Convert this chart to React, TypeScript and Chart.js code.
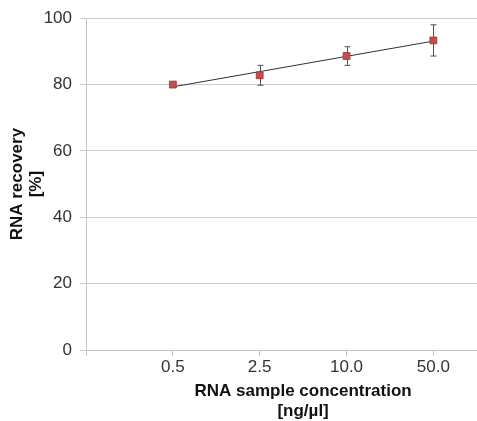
import { useEffect, useRef } from "react";
import { Chart, registerables } from "chart.js";

Chart.register(...registerables);

const categories = ["0.5", "2.5", "10.0", "50.0"];
const recovery = [80.0, 82.8, 88.6, 93.3];
const errors = [0.8, 3.0, 2.8, 4.7];
const trendEnds = [79.3, 93.1];
const yTicks = [0, 20, 40, 60, 80, 100];

const errorBarPlugin = {
  id: "errorBars",
  beforeDatasetsDraw(chart: any) {
    const { ctx, scales } = chart;
    const xs = scales.x;
    const ys = scales.y;
    ctx.save();
    ctx.strokeStyle = "#505050";
    ctx.lineWidth = 1;
    recovery.forEach((v, i) => {
      const px = Math.round(xs.getPixelForValue(i + 1)) + 0.5;
      const top = ys.getPixelForValue(v + errors[i]);
      const bot = ys.getPixelForValue(v - errors[i]);
      ctx.beginPath();
      ctx.moveTo(px, top);
      ctx.lineTo(px, bot);
      ctx.moveTo(px - 3, top);
      ctx.lineTo(px + 3, top);
      ctx.moveTo(px - 3, bot);
      ctx.lineTo(px + 3, bot);
      ctx.stroke();
    });
    ctx.restore();
  },
};

export default function App() {
  const ref = useRef<HTMLCanvasElement | null>(null);
  useEffect(() => {
    if (!ref.current) return;
    const chart = new Chart(ref.current, {
      type: "scatter",
      data: {
        datasets: [
          {
            label: "RNA recovery",
            data: recovery.map((v, i) => ({ x: i + 1, y: v })),
            pointStyle: "rect",
            pointRadius: 4.8,
            backgroundColor: "#c0504d",
            borderColor: "#a8403d",
            borderWidth: 1,
            showLine: false,
            order: 0,
          },
          {
            label: "trend",
            data: [
              { x: 1, y: trendEnds[0] },
              { x: categories.length, y: trendEnds[1] },
            ],
            showLine: true,
            pointRadius: 0,
            borderColor: "#303030",
            borderWidth: 1,
            order: 1,
          },
        ],
      },
      options: {
        animation: false,
        responsive: true,
        maintainAspectRatio: false,
        layout: { padding: { top: 18, left: 0, right: 0, bottom: 0 } },
        plugins: { legend: { display: false }, tooltip: { enabled: false } },
        scales: {
          x: {
            type: "linear",
            min: 0,
            max: 5,
            afterFit: (s: any) => {
              s.height = 71;
            },
            afterBuildTicks: (s: any) => {
              s.ticks = [0, 1, 2, 3, 4, 5].map((v) => ({ value: v }));
            },
            grid: {
              drawOnChartArea: false,
              drawTicks: true,
              tickLength: 6,
              color: "#c4c4c4",
            },
            border: { color: "#c4c4c4", width: 1 },
            ticks: {
              autoSkip: false,
              maxRotation: 0,
              padding: 1,
              color: "#333333",
              font: { family: "'Liberation Sans', Arial, sans-serif", size: 17 },
              callback: (v: any) => categories[Number(v) - 1] ?? "",
            },
            title: {
              display: true,
              text: ["RNA sample concentration", "[ng/µl]"],
              color: "#111111",
              font: {
                family: "'Liberation Sans', Arial, sans-serif",
                size: 17,
                weight: "bold",
                lineHeight: 1.15,
              },
              padding: { top: 0, bottom: 0 },
            },
          },
          y: {
            min: 0,
            max: 100,
            afterFit: (s: any) => {
              s.width = 86;
            },
            afterBuildTicks: (s: any) => {
              s.ticks = yTicks.map((v) => ({ value: v }));
            },
            grid: {
              color: "#cccccc",
              tickLength: 6,
              lineWidth: 1,
            },
            border: { color: "#c4c4c4", width: 1 },
            ticks: {
              padding: 8,
              color: "#333333",
              font: { family: "'Liberation Sans', Arial, sans-serif", size: 17 },
            },
            title: {
              display: true,
              text: ["RNA recovery", "[%]"],
              color: "#111111",
              font: {
                family: "'Liberation Sans', Arial, sans-serif",
                size: 17,
                weight: "bold",
                lineHeight: 1.1,
              },
              padding: { top: 8, bottom: 0 },
            },
          },
        },
      },
      plugins: [errorBarPlugin],
    });
    return () => chart.destroy();
  }, []);

  return (
    <div
      style={{
        position: "absolute",
        left: 0,
        top: 0,
        width: 477,
        height: 421,
        overflow: "hidden",
        background: "#ffffff",
      }}
    >
      <div style={{ position: "relative", width: 526, height: 421 }}>
        <canvas ref={ref} />
      </div>
    </div>
  );
}
